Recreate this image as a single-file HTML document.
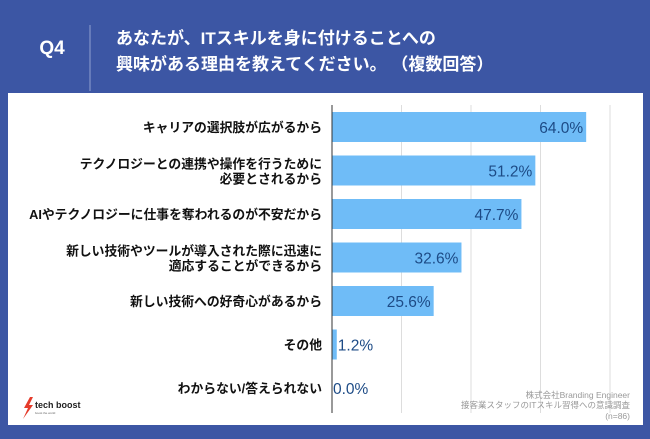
<!DOCTYPE html>
<html><head><meta charset="utf-8"><style>
body{margin:0;width:650px;height:434px;background:#3c56a4;overflow:hidden;font-family:"Liberation Sans","Noto Sans CJK JP",sans-serif;}
svg text{font-family:"Liberation Sans","Noto Sans CJK JP",sans-serif;}
</style></head><body>
<svg width="650" height="434">
<rect x="0" y="0" width="650" height="434" fill="#3c56a4"/>
<text x="52" y="54" font-size="19" font-weight="bold" fill="#fff" text-anchor="middle">Q4</text>
<line x1="90" y1="25" x2="90" y2="91" stroke="#8fa0d0" stroke-width="1"/>
<text x="116" y="44" font-size="17" font-weight="bold" fill="#fff">あなたが、ITスキルを身に付けることへの</text>
<text x="116" y="70" font-size="17" font-weight="bold" fill="#fff" xml:space="preserve">興味がある理由を教えてください。 （複数回答）</text>
<rect x="8" y="93" width="635" height="332" fill="#fff"/>
<g id="grid"></g><g id="bars"></g>
<text x="630" y="398" font-size="8.5" fill="#999" text-anchor="end">株式会社Branding Engineer</text>
<text x="630" y="408" font-size="8.5" fill="#999" text-anchor="end">接客業スタッフのITスキル習得への意識調査</text>
<text x="630" y="419" font-size="8.5" fill="#999" text-anchor="end">(n=86)</text>
<g>
<path d="M30 397 L24 408 L28 408 L23 419 L33 405 L29 405 L33 397 Z" fill="#e53b2b"/>
<text x="35" y="408" font-size="9" font-weight="bold" fill="#222">tech boost</text>
<text x="35" y="414" font-size="3" fill="#666">boost the world</text>
</g>
</svg>
<script>
const categories=["キャリアの選択肢が広がるから","テクノロジーとの連携や操作を行うために|必要とされるから","AIやテクノロジーに仕事を奪われるのが不安だから","新しい技術やツールが導入された際に迅速に|適応することができるから","新しい技術への好奇心があるから","その他","わからない/答えられない"];
const values=[64.0,51.2,47.7,32.6,25.6,1.2,0.0];
const valueLabels=["64.0%","51.2%","47.7%","32.6%","25.6%","1.2%","0.0%"];
const gridTicks=[17.5,35,52.5,70];
const NS="http://www.w3.org/2000/svg";
const x0=332,scale=278/70,top0=112,pitch=43.5,bh=30;
const xs=v=>x0+v*scale;
const grid=document.getElementById('grid'),bars=document.getElementById('bars');
function mk(t,a,p){const e=document.createElementNS(NS,t);for(const k in a)e.setAttribute(k,a[k]);p.appendChild(e);return e;}
gridTicks.forEach(t=>{const l=mk('line',{x1:xs(t),x2:xs(t),y1:105,y2:413,stroke:'#ddd','stroke-width':1},grid);

});
values.forEach((v,i)=>{const y=top0+i*pitch;
const r=mk('rect',{x:x0,y:y,width:v*scale,height:bh,fill:'#6fbcf7'},bars);


const inside=v>10;
const t=mk('text',{x:inside?xs(v)-3:xs(v)+1,y:y+21,'font-size':15.5,fill:'#1d4b86','text-anchor':inside?'end':'start'},bars);
t.textContent=valueLabels[i];


const lines=categories[i].split('|');
lines.forEach((s,j)=>{const c=mk('text',{x:322,y:y+(lines.length==1?20:13+j*15),'font-size':12.8,'font-weight':'bold',fill:'#111','text-anchor':'end'},bars);
c.textContent=s;

});
});
const ax=mk('line',{x1:x0,x2:x0,y1:105,y2:413,stroke:'#333','stroke-width':1},bars);


</script>
</body></html>
